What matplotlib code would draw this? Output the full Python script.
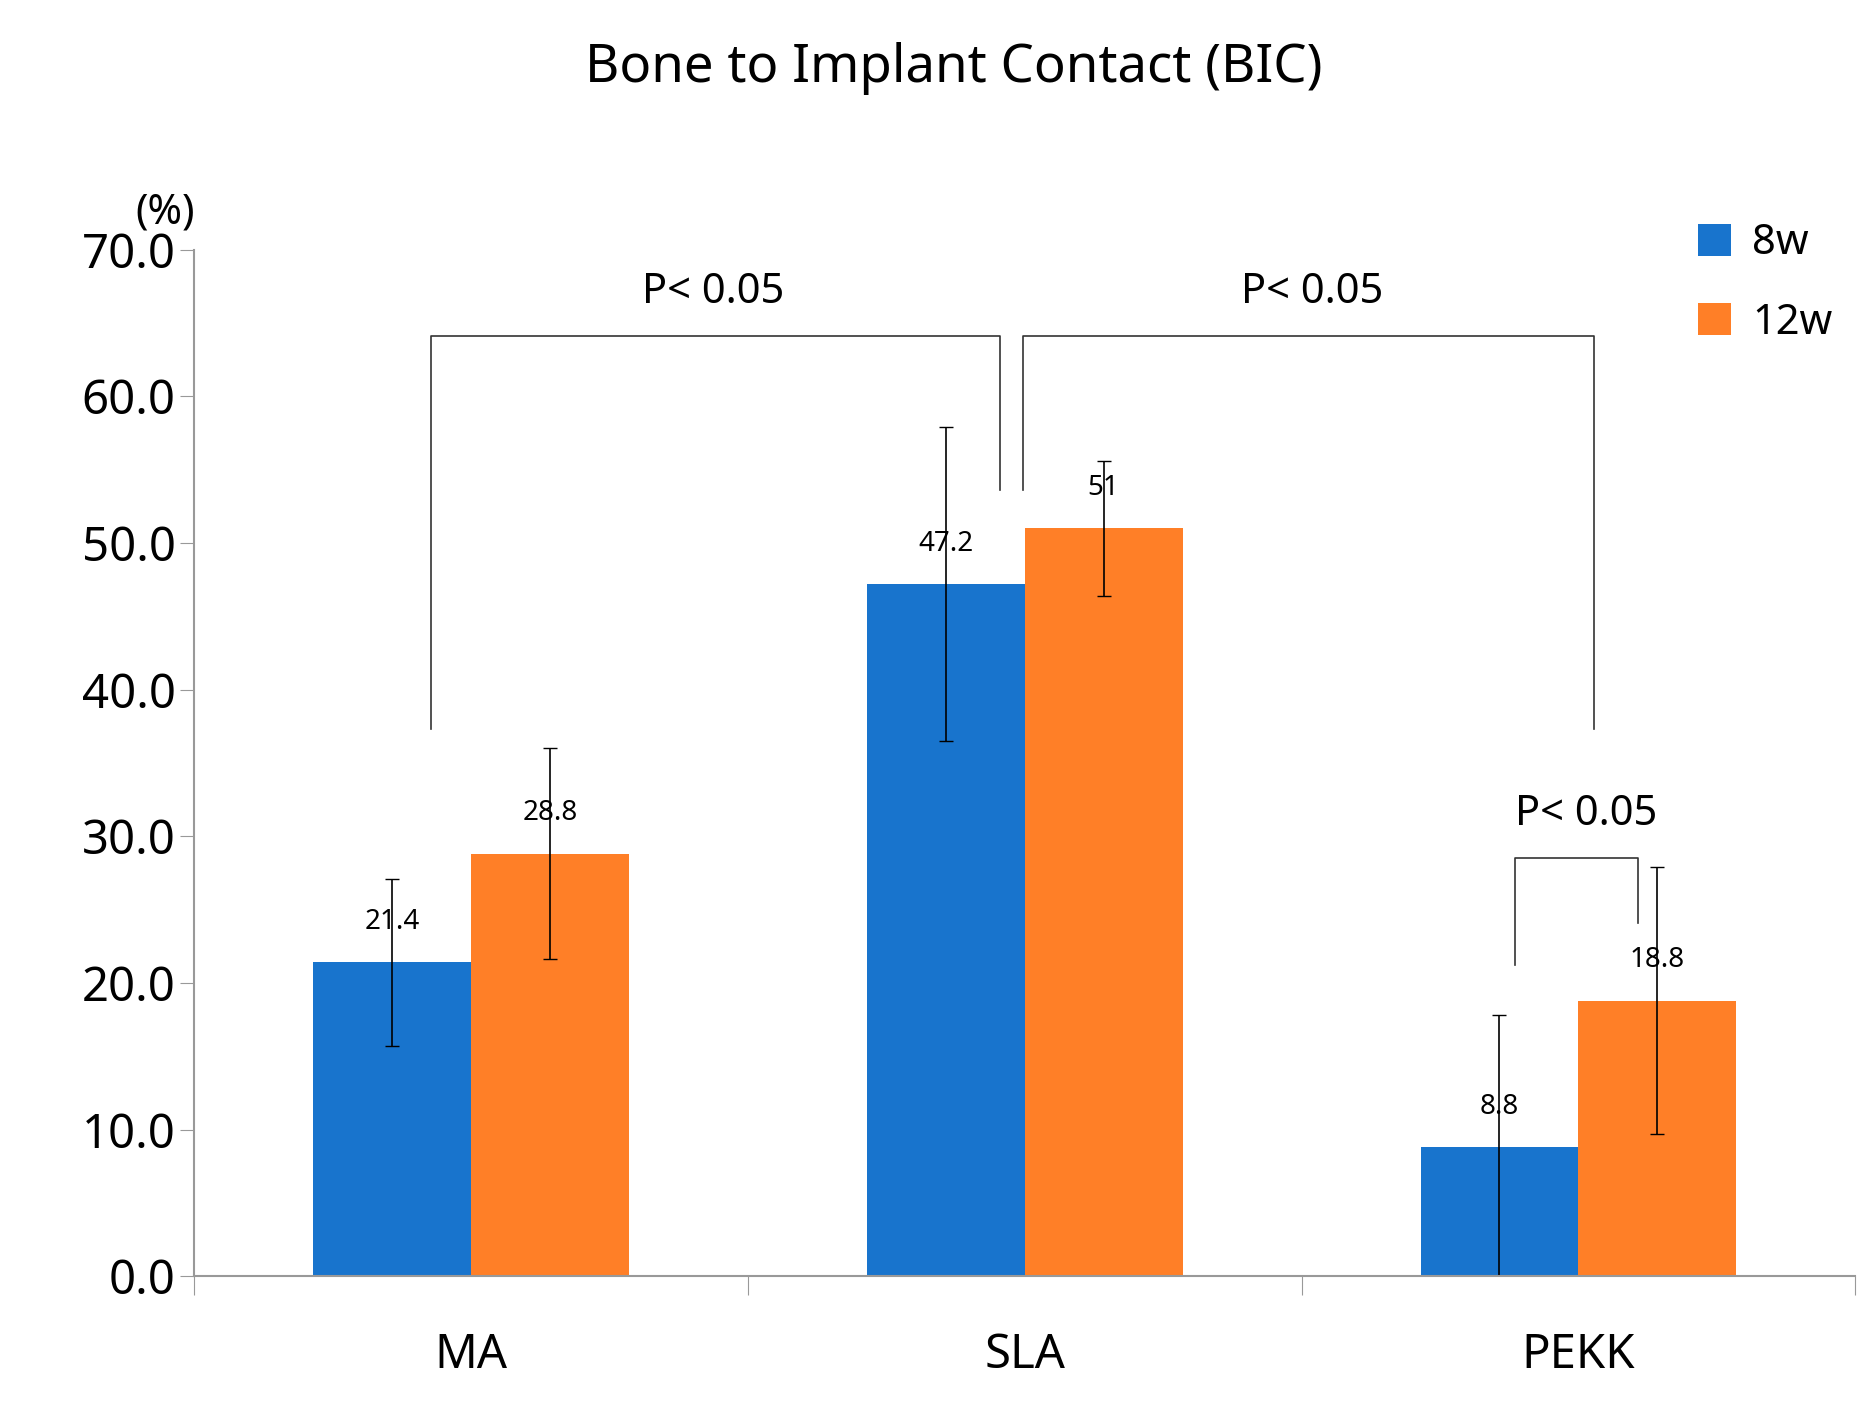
import matplotlib
matplotlib.use("Agg")
import matplotlib.pyplot as plt
import numpy as np

categories = ["MA", "SLA", "PEKK"]
series = ["8w", "12w"]
v8 = [21.4, 47.2, 8.8]
v12 = [28.8, 51.0, 18.8]
e8 = [5.7, 10.7, 9.0]
e12 = [7.2, 4.6, 9.1]
lbl8 = ["21.4", "47.2", "8.8"]
lbl12 = ["28.8", "51", "18.8"]
yticks = [0, 10, 20, 30, 40, 50, 60, 70]

blue = "#1874CD"
orange = "#FF7F27"
plt.rcParams["font.family"] = "Noto Sans"

fig = plt.figure(figsize=(18.7, 14.22), dpi=100)
ax = fig.add_axes([0.104, 0.1025, 0.888, 0.722])
x = np.arange(len(categories))
w = 0.285
ax.bar(x - w/2, v8, w, color=blue, label=series[0])
ax.bar(x + w/2, v12, w, color=orange, label=series[1])
lo8 = [min(e, v) for e, v in zip(e8, v8)]
ax.errorbar(x - w/2, v8, yerr=[lo8, e8], fmt="none", ecolor="black", elinewidth=1.2, capsize=5)
ax.errorbar(x + w/2, v12, yerr=e12, fmt="none", ecolor="black", elinewidth=1.2, capsize=5)
for i in range(3):
    ax.text(x[i] - w/2, v8[i] + 1.8, lbl8[i], ha="center", va="bottom", fontsize=20)
    ax.text(x[i] + w/2, v12[i] + 1.8, lbl12[i], ha="center", va="bottom", fontsize=20)

ax.set_xlim(-0.5, 2.5)
ax.set_ylim(0, 70)
ax.set_yticks(yticks)
ax.set_yticklabels([f"{t:.1f}" for t in yticks], fontsize=34)
ax.set_xticks([-0.5, 0.5, 1.5, 2.5])
ax.set_xticklabels([])
ax.set_xticks(x, minor=True)
ax.set_xticklabels(categories, minor=True, fontsize=34)
ax.tick_params(axis="x", which="minor", length=0, pad=40)
ax.tick_params(axis="x", which="major", length=14, color="#999999")
ax.tick_params(axis="y", length=10, color="#999999")
for s in ["top", "right"]:
    ax.spines[s].set_visible(False)
for s in ["left", "bottom"]:
    ax.spines[s].set_color("#999999")
    ax.spines[s].set_linewidth(1.5)

lc = "#333333"
ax.plot([-0.073, -0.073, 0.955, 0.955], [37.3, 64.1, 64.1, 53.6], color=lc, lw=1.2)
ax.plot([0.996, 0.996, 2.028, 2.028], [53.6, 64.1, 64.1, 37.3], color=lc, lw=1.2)
ax.plot([1.886, 1.886, 2.108, 2.108], [21.2, 28.5, 28.5, 24.1], color=lc, lw=1.2)
ax.text(0.437, 67.1, "P< 0.05", ha="center", va="center", fontsize=30)
ax.text(1.519, 67.1, "P< 0.05", ha="center", va="center", fontsize=30)
ax.text(2.015, 31.5, "P< 0.05", ha="center", va="center", fontsize=30)

ax.text(-0.5, 72.5, "(%)", ha="right", va="center", fontsize=30, transform=ax.transData, clip_on=False)
fig.text(0.51, 0.952, "Bone to Implant Contact (BIC)", ha="center", va="center", fontsize=38, fontweight="bold")
fig.legend(loc="upper right", bbox_to_anchor=(1.0, 0.87), frameon=False, fontsize=30,
           handlelength=0.8, handleheight=0.8, labelspacing=0.9, handletextpad=0.5)
fig.savefig("out.png", dpi=100)
